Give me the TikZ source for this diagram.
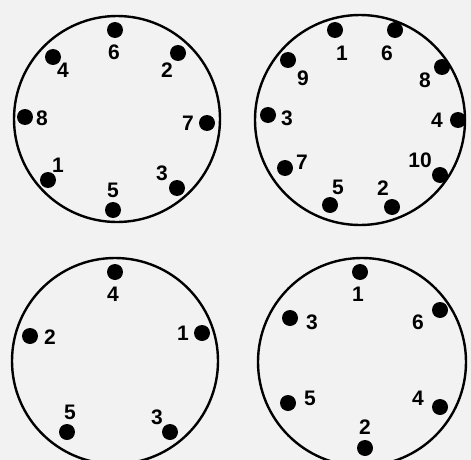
\documentclass[tikz,border=0pt]{standalone}
\usepackage{fontspec}
\setmainfont{Liberation Sans}
\tikzset{
  socket/.style={draw, circle, line width=2.4pt, minimum size=#1, inner sep=0pt},
  pindot/.style={fill, circle, minimum size=16pt, inner sep=0pt},
  pinnum/.style={inner sep=0pt, font=\fontsize{21}{21}\selectfont\bfseries}
}
\begin{document}
\begin{tikzpicture}[x=1pt, y=-1pt]

  % ---- page ----
  \fill[black!5] (0,0) rectangle (471,460);
  \useasboundingbox (0,0) rectangle (471,460);

  % ---- the four sockets ----
  \node[socket=206pt] (tl) at (117,119) {};
  \node[socket=210pt] (tr) at (360,120) {};
  \node[socket=206pt] (bl) at (115,361) {};
  \node[socket=208pt] (br) at (362,362) {};

  % ---- top left: 8 pins ----
  \foreach \n/\dx/\dy/\lx/\ly in {6/115/30/114/52, 2/178/53/167/70,
      4/53/57/63/70, 8/25/117/42/118, 7/207/123/188/123,
      1/48/180/58/165, 3/177/188/162/173, 5/113/210/113/190} {
    \node[pindot] (tl-\n) at (\dx,\dy) {};
    \node[pinnum] (tl-\n-num) at (\lx,\ly) {\n};
  }

  % ---- top right: 10 pins ----
  \foreach \n/\dx/\dy/\lx/\ly in {1/335/30/342/53, 6/395/30/387/53,
      9/288/60/303/78, 8/442/67/425/80, 3/268/115/287/118,
      4/458/120/437/120, 7/285/168/302/162, 10/440/175/420/160,
      5/330/205/338/187, 2/392/207/383/188} {
    \node[pindot] (tr-\n) at (\dx,\dy) {};
    \node[pinnum] (tr-\n-num) at (\lx,\ly) {\n};
  }

  % ---- bottom left: 5 pins ----
  \foreach \n/\dx/\dy/\lx/\ly in {4/115/272/113/294, 2/30/336/50/337,
      1/202/333/183/333, 5/67/432/70/412, 3/170/432/157/417} {
    \node[pindot] (bl-\n) at (\dx,\dy) {};
    \node[pinnum] (bl-\n-num) at (\lx,\ly) {\n};
  }

  % ---- bottom right: 6 pins ----
  \foreach \n/\dx/\dy/\lx/\ly in {1/360/272/358/294, 3/290/318/312/322,
      6/440/310/418/322, 5/288/403/310/398, 4/440/407/418/398,
      2/365/448/365/427} {
    \node[pindot] (br-\n) at (\dx,\dy) {};
    \node[pinnum] (br-\n-num) at (\lx,\ly) {\n};
  }

\end{tikzpicture}
\end{document}
